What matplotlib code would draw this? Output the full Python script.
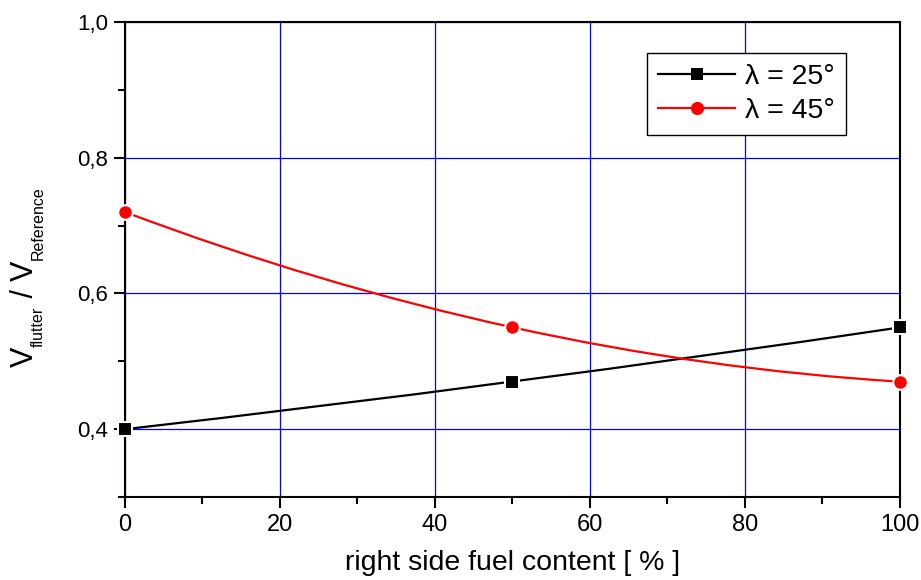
import numpy as np
import matplotlib
matplotlib.use("Agg")
from matplotlib import pyplot as plt
from matplotlib.path import Path
from matplotlib.patches import PathPatch
from matplotlib.transforms import IdentityTransform
from matplotlib.ticker import MultipleLocator, FixedLocator, FuncFormatter

plt.rcParams['font.family'] = ['Liberation Sans', 'DejaVu Sans']

# fuel content in percent and flutter speed ratio for two sweep angles
fuel = [0, 50, 100]
v_25 = [0.40, 0.47, 0.55]
v_45 = [0.72, 0.55, 0.47]
labels = ['λ = 25°', 'λ = 45°']

fig = plt.figure(figsize=(9.21, 5.80), dpi=100)
ax = fig.add_axes([0.1357, 0.143, 0.8415, 0.819])


def smooth_line(ax, x, y, color):
    # quadratic bezier through the three points (control point chosen so
    # the curve passes through the middle point)
    cx = 2 * x[1] - (x[0] + x[2]) / 2
    cy = 2 * y[1] - (y[0] + y[2]) / 2
    verts = [(x[0], y[0]), (cx, cy), (x[2], y[2])]
    path = Path(verts, [Path.MOVETO, Path.CURVE3, Path.CURVE3])
    ax.add_patch(PathPatch(path, facecolor='none', edgecolor=color,
                           lw=1.6, zorder=3))


smooth_line(ax, fuel, v_25, 'black')
smooth_line(ax, fuel, v_45, 'red')

ax.plot(fuel, v_25, ls='none', marker='s', ms=10, color='black',
        mec='white', mew=1.5, zorder=4, clip_on=False)
ax.plot(fuel, v_45, ls='none', marker='o', ms=10.5, color='red',
        mec='white', mew=1.5, zorder=4, clip_on=False)

# legend handles
h1, = ax.plot([], [], color='black', lw=1.6, marker='s', ms=9, mec='black', mew=0)
h2, = ax.plot([], [], color='red', lw=1.6, marker='o', ms=9.5, mec='red', mew=0)
leg = ax.legend([h1, h2], labels, loc='upper right', bbox_to_anchor=(0.930, 0.935),
                fontsize=20.5, frameon=True, fancybox=False, framealpha=1,
                edgecolor='black', handlelength=2.7, handletextpad=0.35,
                borderpad=0.38, labelspacing=0.3, borderaxespad=0)
leg.get_frame().set_linewidth(1.0)

ax.set_xlim(0, 100)
ax.set_ylim(0.3, 1.0)
ax.xaxis.set_major_locator(MultipleLocator(20))
ax.xaxis.set_minor_locator(MultipleLocator(10))
ax.yaxis.set_major_locator(FixedLocator([0.4, 0.6, 0.8, 1.0]))
ax.yaxis.set_minor_locator(FixedLocator([0.3, 0.5, 0.7, 0.9]))
ax.yaxis.set_major_formatter(FuncFormatter(lambda v, p: f'{v:.1f}'.replace('.', ',')))

ax.grid(True, which='major', color='blue', lw=0.9)
ax.set_axisbelow(True)

for s in ax.spines.values():
    s.set_linewidth(1.5)
ax.tick_params(which='major', direction='out', length=8, width=1.5, pad=4)
ax.tick_params(which='minor', direction='out', length=5, width=1.5)
ax.tick_params(axis='y', labelsize=16)
ax.tick_params(axis='x', labelsize=17, pad=4)

ax.set_xlabel('right side fuel content [ % ]', fontsize=20.5, labelpad=10)

# y label built piece by piece so the subscripts can be set smaller
renderer = fig.canvas.get_renderer()
pieces = [('V', 22, 0), ('flutter', 11.5, 10), (' / ', 22, 0),
          ('V', 22, 0), ('Reference', 11.5, 10)]
base_x, pos_y = 33, 213
for txt, size, drop in pieces:
    t = fig.text(base_x + drop, pos_y, txt, fontsize=size, rotation=90,
                 rotation_mode='anchor', ha='left', va='baseline',
                 transform=IdentityTransform())
    pos_y += t.get_window_extent(renderer).height

plt.savefig('out.png', dpi=100)
plt.close()
